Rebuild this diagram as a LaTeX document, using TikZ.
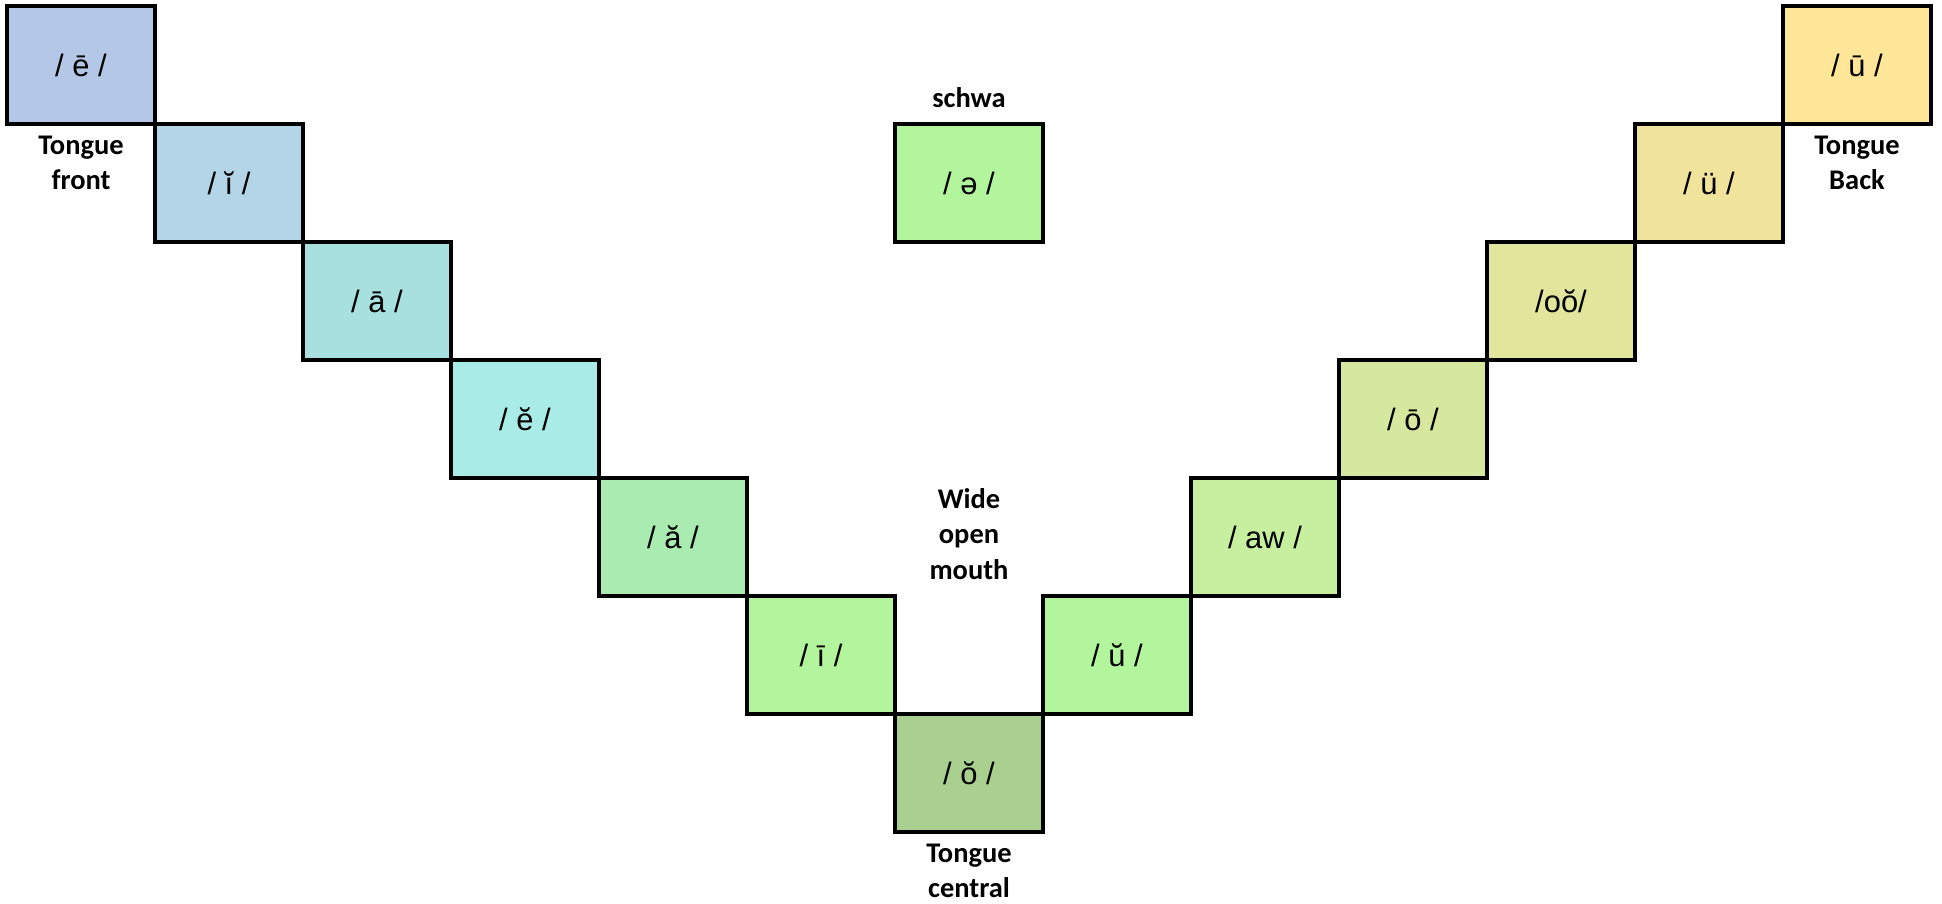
\documentclass[tikz,border=0pt]{standalone}
\usepackage{fontspec}
\setmainfont{Carlito}
\newfontfamily\vowelfont{Liberation Sans}
\usetikzlibrary{positioning}
\definecolor{frontblue}{HTML}{B4C7E7}
\definecolor{ilight}{HTML}{B4D5E8}
\definecolor{ateal}{HTML}{A8E0E0}
\definecolor{ecyan}{HTML}{A9ECE7}
\definecolor{amint}{HTML}{A9EBB1}
\definecolor{lightgreen}{HTML}{B3F59D}
\definecolor{centralgreen}{HTML}{A9D08E}
\definecolor{awgreen}{HTML}{C6F09F}
\definecolor{olime}{HTML}{D6E8A0}
\definecolor{ooolive}{HTML}{E2E59C}
\definecolor{usand}{HTML}{F0E49C}
\definecolor{backyellow}{HTML}{FFE699}

\begin{document}
\begin{tikzpicture}[node distance=1.18cm and 1.48cm,on grid,
    vowel/.style={draw=black,line width=0.9pt,minimum width=1.48cm,minimum height=1.18cm,
      inner sep=0pt,font=\vowelfont\fontsize{8.8}{10}\selectfont},
    tag/.style={align=center,font=\bfseries\fontsize{8.1}{10.1}\selectfont}]
        \useasboundingbox (-0.81,0.65) rectangle (18.61,-8.38);
        % tongue front, going down
        \node(ebar)[vowel,fill=frontblue]{/ ē /};
        \node(ibreve)[vowel,fill=ilight,below right=of ebar]{/ ĭ /};
        \node(abar)[vowel,fill=ateal,below right=of ibreve]{/ ā /};
        \node(ebreve)[vowel,fill=ecyan,below right=of abar]{/ ĕ /};
        \node(abreve)[vowel,fill=amint,below right=of ebreve]{/ ă /};
        \node(ibar)[vowel,fill=lightgreen,below right=of abreve]{/ ī /};
        \node(obreve)[vowel,fill=centralgreen,below right=of ibar]{/ ŏ /};
        % tongue back, going up
        \node(ubreve)[vowel,fill=lightgreen,above right=of obreve]{/ ŭ /};
        \node(aw)[vowel,fill=awgreen,above right=of ubreve]{/ aw /};
        \node(obar)[vowel,fill=olime,above right=of aw]{/ ō /};
        \node(oo)[vowel,fill=ooolive,above right=of obar]{/oŏ/};
        \node(uuml)[vowel,fill=usand,above right=of oo]{/ ü /};
        \node(ubar)[vowel,fill=backyellow,above right=of uuml]{/ ū /};
        \node(schwa)[vowel,fill=lightgreen,right=7.4cm of ibreve]{/ ə /};
        % labels
        \node(front)[tag,below=0.98cm of ebar]{Tongue\\front};
        \node(central)[tag,below=0.98cm of obreve]{Tongue\\central};
        \node(back)[tag,below=0.98cm of ubar]{Tongue\\Back};
        \node(schwatag)[tag,above=0.85cm of schwa]{schwa};
        \node(mouth)[tag,above=2.39cm of obreve]{Wide\\open\\mouth};
      \end{tikzpicture}
\end{document}
